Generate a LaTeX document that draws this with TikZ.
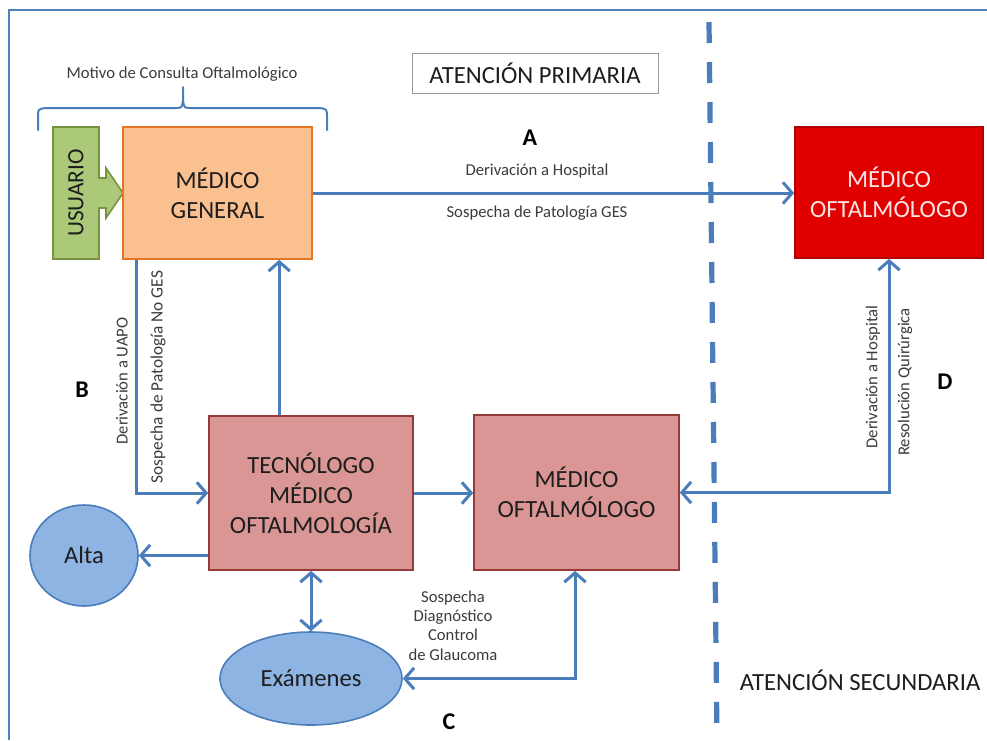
\documentclass[tikz,border=0pt]{standalone}
\usepackage{fontspec}
\setmainfont{Carlito}
\usetikzlibrary{arrows.meta,calc,shapes.geometric}
\definecolor{lineblue}{RGB}{74,126,187}
\definecolor{frameblue}{RGB}{79,129,189}
\definecolor{orfill}{RGB}{250,192,144}
\definecolor{ordraw}{RGB}{228,118,40}
\definecolor{grfill}{RGB}{172,201,122}
\definecolor{grdraw}{RGB}{119,147,60}
\definecolor{redfill}{RGB}{224,0,0}
\definecolor{reddraw}{RGB}{176,0,0}
\definecolor{redtxt}{RGB}{250,228,228}
\definecolor{pkfill}{RGB}{217,150,148}
\definecolor{pkdraw}{RGB}{150,58,56}
\definecolor{elfill}{RGB}{142,180,227}
\definecolor{txt}{RGB}{30,30,30}
\definecolor{lbl}{RGB}{60,60,60}
\tikzset{
  bigtxt/.style={font=\fontsize{18.5pt}{22.5pt}\selectfont, text=txt, align=center},
  boxnode/.style={draw, line width=1.2pt, inner sep=0pt, bigtxt},
  smalllbl/.style={font=\fontsize{12.5pt}{14.5pt}\selectfont, text=lbl, align=center, inner sep=0pt},
  letter/.style={font=\fontsize{18pt}{20pt}\selectfont\bfseries, text=black, inner sep=0pt},
  arr/.style={draw=lineblue, line width=2.25pt, -{Straight Barb[length=7pt,width=16pt]}},
  arrtwo/.style={draw=lineblue, line width=2.25pt, {Straight Barb[length=7pt,width=16pt]}-{Straight Barb[length=7pt,width=16pt]}},
  bracestyle/.style={draw=lineblue, line width=1.5pt, line cap=round},
}
\begin{document}
\begin{tikzpicture}[x=0.75pt,y=-0.75pt]
\useasboundingbox (0,0) rectangle (987,740);
\fill[white] (0,0) rectangle (987,740);

% frame
\draw[frameblue, line width=1.8pt] (9,740) -- (9,10) -- (987,10);

% dashed separator
\draw[lineblue, line width=3.9pt, dash pattern=on 15.75pt off 14.25pt] (709,22) -- (717,740);

% title boxes
\node[draw=gray!80, line width=0.6pt, minimum width=184.5pt, minimum height=30pt, inner sep=0pt,
      font=\fontsize{18.5pt}{20pt}\selectfont, text=txt] (ap) at (535,73) {ATENCIÓN PRIMARIA};
\node[font=\fontsize{18.5pt}{20pt}\selectfont, text=txt, inner sep=0pt] (as) at (860,680) {ATENCIÓN SECUNDARIA};

% brace and its label
\node[smalllbl] (motivo) at (182,74) {Motivo de Consulta Oftalmológico};
\draw[bracestyle] (38,130) -- (38,117) .. controls (38,109) .. (46,108) -- (175,108)
   .. controls (182,108) .. (183,100) -- (183,87);
\draw[bracestyle] (327,130) -- (327,117) .. controls (327,109) .. (319,108) -- (191,108)
   .. controls (184,108) .. (183,100);

% usuario arrow shape
\draw[draw=grdraw, fill=grfill, line width=1.2pt, line join=miter]
  (53,127) -- (99,127) -- (99,178) -- (106,178) -- (106,168) -- (123,193) -- (106,218)
  -- (106,208) -- (99,208) -- (99,259) -- (53,259) -- cycle;
\node[bigtxt, rotate=90, font=\fontsize{17.5pt}{20pt}\selectfont, inner sep=0pt] (usuario) at (76,193) {USUARIO};

% boxes
\node[boxnode, draw=ordraw, fill=orfill, minimum width=141.75pt, minimum height=99pt] (mg) at (217.5,193) {MÉDICO\\GENERAL};
\node[boxnode, draw=reddraw, fill=redfill, text=redtxt, minimum width=141pt, minimum height=98.25pt] (mor) at (889,192.5) {MÉDICO\\OFTALMÓLOGO};
\node[boxnode, draw=pkdraw, fill=pkfill, minimum width=153pt, minimum height=115.5pt] (tm) at (311,493) {TECNÓLOGO\\MÉDICO\\OFTALMOLOGÍA};
\node[boxnode, draw=pkdraw, fill=pkfill, minimum width=153.75pt, minimum height=116.25pt] (mo) at (576.5,492.5) {MÉDICO\\OFTALMÓLOGO};

% ellipses
\node[ellipse, draw=lineblue, fill=elfill, line width=1.2pt, inner sep=0pt, minimum width=81pt, minimum height=75.75pt, bigtxt] (alta) at (84,555.5) {Alta};
\node[ellipse, draw=lineblue, fill=elfill, line width=1.2pt, inner sep=0pt, minimum width=136.5pt, minimum height=69.75pt, bigtxt] (exam) at (311,678.5) {Exámenes};

% connectors
\draw[arr] (mg.east) -- (mg.east -| mor.west);
\draw[arr] ($(mg.south west)+(14,0)$) |- (tm.west);
\path ($(tm.north west)+(71,0)$) coordinate (t1);
\draw[arr] (t1) -- (t1 |- mg.south);
\draw[arr] (tm.east) -- (tm.east -| mo.west);
\draw[arr] (tm.west |- alta.east) -- (alta.east);
\draw[arrtwo] (tm.south) -- (exam.north);
\draw[arrtwo] ($(mo.south)+(-1.5,0)$) |- (exam.east);
\draw[arrtwo] (mor.south) |- (mo.east);

% labels
\node[letter] (la) at (530,138) {A};
\node[smalllbl] (a1) at (537,171) {Derivación a Hospital};
\node[smalllbl] (a2) at (537,213) {Sospecha de Patología GES};
\node[letter] (lb) at (82,390) {B};
\node[smalllbl, rotate=90] (b1) at (122,381) {Derivación a UAPO};
\node[smalllbl, rotate=90, font=\fontsize{13pt}{15pt}\selectfont] (b2) at (158,377) {Sospecha de Patología No GES};
\node[letter] (lc) at (449,722) {C};
\node[smalllbl] (c1) at (453,625.5) {Sospecha\\Diagnóstico\\Control\\de Glaucoma};
\node[letter] (ld) at (945,382) {D};
\node[smalllbl, rotate=90] (d1) at (873,377) {Derivación a Hospital};
\node[smalllbl, rotate=90] (d2) at (905,382) {Resolución Quirúrgica};
\end{tikzpicture}
\end{document}
